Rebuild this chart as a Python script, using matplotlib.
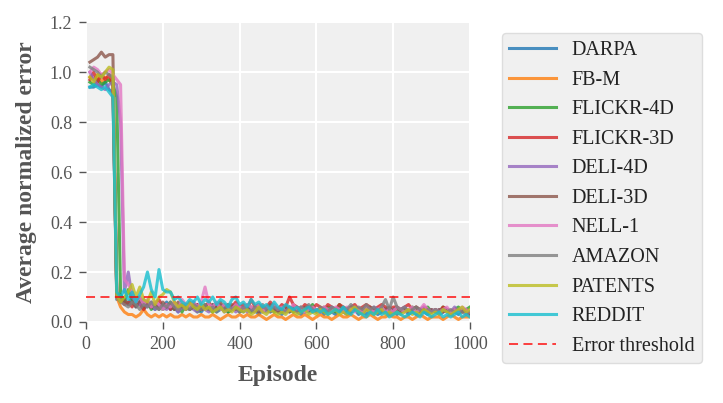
import matplotlib
matplotlib.use("Agg")
import matplotlib.pyplot as plt

# episodes every 10 steps
episodes = list(range(10, 1001, 10))

darpa = [0.94, 0.94, 0.95, 0.94, 0.96, 0.93, 0.92, 0.09, 0.11, 0.08,
         0.07, 0.10, 0.06, 0.08, 0.05, 0.07, 0.06, 0.05, 0.07, 0.06,
         0.08, 0.05, 0.06, 0.04, 0.07, 0.05, 0.06, 0.08, 0.05, 0.04,
         0.06, 0.05, 0.07, 0.04, 0.05, 0.06, 0.04, 0.05, 0.07, 0.05,
         0.04, 0.06, 0.04, 0.05, 0.03, 0.05, 0.06, 0.04, 0.05, 0.04,
         0.03, 0.05, 0.04, 0.06, 0.04, 0.03, 0.05, 0.04, 0.06, 0.04,
         0.05, 0.03, 0.05, 0.04, 0.03, 0.05, 0.04, 0.03, 0.04, 0.05,
         0.03, 0.04, 0.03, 0.05, 0.04, 0.03, 0.04, 0.05, 0.03, 0.04,
         0.03, 0.04, 0.05, 0.03, 0.04, 0.03, 0.05, 0.04, 0.03, 0.04,
         0.05, 0.03, 0.04, 0.05, 0.03, 0.04, 0.03, 0.05, 0.04, 0.03]

fb_m = [0.98, 0.97, 0.99, 0.96, 0.98, 0.97, 0.95, 0.10, 0.06, 0.04,
        0.03, 0.03, 0.02, 0.03, 0.05, 0.03, 0.02, 0.03, 0.02, 0.03,
        0.02, 0.03, 0.02, 0.02, 0.03, 0.02, 0.03, 0.02, 0.02, 0.03,
        0.02, 0.02, 0.03, 0.02, 0.01, 0.02, 0.03, 0.02, 0.02, 0.03,
        0.02, 0.03, 0.02, 0.02, 0.03, 0.02, 0.01, 0.02, 0.03, 0.02,
        0.02, 0.01, 0.02, 0.03, 0.02, 0.02, 0.03, 0.02, 0.01, 0.02,
        0.03, 0.02, 0.02, 0.01, 0.02, 0.03, 0.02, 0.02, 0.03, 0.02,
        0.01, 0.02, 0.02, 0.03, 0.02, 0.01, 0.02, 0.02, 0.03, 0.02,
        0.02, 0.01, 0.02, 0.02, 0.01, 0.02, 0.03, 0.02, 0.01, 0.02,
        0.02, 0.02, 0.01, 0.02, 0.03, 0.02, 0.01, 0.02, 0.02, 0.02]

flickr_4d = [0.96, 0.95, 0.97, 0.95, 0.96, 0.97, 0.95, 0.90, 0.11, 0.08,
             0.13, 0.09, 0.07, 0.10, 0.06, 0.08, 0.05, 0.07, 0.06, 0.05,
             0.06, 0.08, 0.05, 0.06, 0.04, 0.07, 0.05, 0.06, 0.04, 0.05,
             0.07, 0.05, 0.04, 0.06, 0.05, 0.07, 0.04, 0.05, 0.06, 0.04,
             0.05, 0.06, 0.04, 0.05, 0.07, 0.04, 0.05, 0.06, 0.04, 0.05,
             0.04, 0.06, 0.05, 0.04, 0.05, 0.06, 0.04, 0.05, 0.07, 0.04,
             0.05, 0.04, 0.06, 0.05, 0.04, 0.07, 0.05, 0.04, 0.06, 0.05,
             0.04, 0.05, 0.06, 0.04, 0.05, 0.04, 0.06, 0.05, 0.04, 0.05,
             0.06, 0.04, 0.05, 0.04, 0.06, 0.05, 0.04, 0.05, 0.06, 0.04,
             0.05, 0.04, 0.06, 0.05, 0.04, 0.05, 0.06, 0.04, 0.05, 0.06]

flickr_3d = [0.97, 1.00, 0.96, 0.99, 0.97, 0.99, 0.95, 0.11, 0.09, 0.07,
             0.08, 0.06, 0.09, 0.07, 0.05, 0.08, 0.06, 0.07, 0.09, 0.06,
             0.07, 0.05, 0.08, 0.06, 0.07, 0.05, 0.08, 0.06, 0.07, 0.05,
             0.06, 0.08, 0.05, 0.07, 0.06, 0.05, 0.07, 0.06, 0.08, 0.06,
             0.07, 0.05, 0.09, 0.06, 0.07, 0.05, 0.06, 0.08, 0.06, 0.05,
             0.07, 0.06, 0.10, 0.07, 0.06, 0.05, 0.07, 0.06, 0.05, 0.07,
             0.06, 0.05, 0.07, 0.06, 0.05, 0.07, 0.06, 0.05, 0.06, 0.07,
             0.05, 0.06, 0.07, 0.06, 0.05, 0.06, 0.07, 0.06, 0.05, 0.06,
             0.06, 0.05, 0.06, 0.07, 0.05, 0.06, 0.05, 0.06, 0.05, 0.04,
             0.05, 0.04, 0.06, 0.05, 0.04, 0.05, 0.04, 0.05, 0.04, 0.03]

deli_4d = [1.00, 0.97, 0.95, 0.94, 0.93, 0.95, 0.96, 0.95, 0.80, 0.12,
           0.20, 0.10, 0.08, 0.07, 0.09, 0.06, 0.08, 0.05, 0.07, 0.06,
           0.05, 0.07, 0.06, 0.04, 0.06, 0.05, 0.07, 0.05, 0.04, 0.06,
           0.05, 0.04, 0.06, 0.05, 0.07, 0.04, 0.05, 0.06, 0.04, 0.05,
           0.06, 0.04, 0.05, 0.04, 0.06, 0.05, 0.04, 0.05, 0.06, 0.04,
           0.05, 0.04, 0.06, 0.05, 0.04, 0.05, 0.04, 0.06, 0.05, 0.04,
           0.04, 0.05, 0.04, 0.06, 0.05, 0.04, 0.05, 0.04, 0.05, 0.06,
           0.05, 0.04, 0.05, 0.04, 0.06, 0.05, 0.04, 0.05, 0.04, 0.05,
           0.04, 0.05, 0.06, 0.04, 0.05, 0.04, 0.05, 0.06, 0.04, 0.05,
           0.04, 0.05, 0.04, 0.05, 0.04, 0.06, 0.04, 0.05, 0.04, 0.04]

deli_3d = [1.04, 1.05, 1.06, 1.08, 1.06, 1.07, 1.07, 0.12, 0.08, 0.09,
           0.07, 0.08, 0.06, 0.09, 0.07, 0.08, 0.06, 0.07, 0.05, 0.08,
           0.06, 0.07, 0.05, 0.08, 0.06, 0.07, 0.05, 0.06, 0.07, 0.05,
           0.06, 0.05, 0.07, 0.06, 0.08, 0.05, 0.06, 0.07, 0.05, 0.06,
           0.05, 0.07, 0.06, 0.05, 0.04, 0.06, 0.05, 0.07, 0.05, 0.04,
           0.06, 0.05, 0.04, 0.06, 0.05, 0.04, 0.06, 0.05, 0.04, 0.05,
           0.04, 0.06, 0.05, 0.04, 0.05, 0.06, 0.04, 0.05, 0.04, 0.05,
           0.05, 0.04, 0.05, 0.06, 0.04, 0.05, 0.04, 0.05, 0.06, 0.04,
           0.05, 0.04, 0.05, 0.04, 0.05, 0.06, 0.04, 0.05, 0.04, 0.05,
           0.04, 0.05, 0.04, 0.05, 0.04, 0.05, 0.04, 0.04, 0.05, 0.04]

nell_1 = [1.00, 1.02, 1.01, 0.99, 1.00, 1.01, 0.99, 0.97, 0.95, 0.17,
          0.15, 0.12, 0.08, 0.10, 0.07, 0.09, 0.06, 0.08, 0.07, 0.05,
          0.07, 0.06, 0.08, 0.05, 0.09, 0.07, 0.06, 0.08, 0.06, 0.08,
          0.14, 0.07, 0.06, 0.08, 0.05, 0.07, 0.06, 0.05, 0.07, 0.06,
          0.05, 0.07, 0.06, 0.05, 0.07, 0.04, 0.06, 0.05, 0.07, 0.05,
          0.06, 0.04, 0.05, 0.07, 0.05, 0.06, 0.04, 0.05, 0.06, 0.05,
          0.04, 0.06, 0.05, 0.04, 0.06, 0.05, 0.04, 0.06, 0.05, 0.04,
          0.05, 0.04, 0.06, 0.05, 0.04, 0.05, 0.06, 0.04, 0.05, 0.04,
          0.06, 0.05, 0.04, 0.05, 0.06, 0.04, 0.05, 0.07, 0.05, 0.04,
          0.05, 0.04, 0.05, 0.06, 0.04, 0.05, 0.04, 0.06, 0.05, 0.04]

amazon = [1.02, 1.01, 1.00, 0.98, 1.00, 0.99, 0.98, 0.10, 0.08, 0.07,
          0.06, 0.08, 0.07, 0.05, 0.07, 0.06, 0.08, 0.06, 0.05, 0.07,
          0.06, 0.08, 0.06, 0.05, 0.07, 0.06, 0.05, 0.07, 0.06, 0.05,
          0.07, 0.05, 0.06, 0.04, 0.06, 0.05, 0.07, 0.05, 0.06, 0.04,
          0.06, 0.05, 0.04, 0.06, 0.05, 0.07, 0.05, 0.04, 0.06, 0.05,
          0.05, 0.04, 0.06, 0.05, 0.04, 0.06, 0.05, 0.07, 0.05, 0.04,
          0.06, 0.05, 0.04, 0.06, 0.05, 0.04, 0.06, 0.05, 0.07, 0.05,
          0.06, 0.05, 0.07, 0.05, 0.06, 0.04, 0.06, 0.09, 0.05, 0.10,
          0.06, 0.05, 0.06, 0.04, 0.05, 0.06, 0.05, 0.04, 0.05, 0.04,
          0.05, 0.04, 0.05, 0.04, 0.05, 0.04, 0.05, 0.04, 0.03, 0.04]

patents = [0.98, 0.96, 0.99, 0.98, 1.00, 1.02, 1.01, 0.11, 0.08, 0.10,
           0.12, 0.15, 0.10, 0.14, 0.09, 0.08, 0.12, 0.07, 0.10, 0.11,
           0.13, 0.12, 0.08, 0.06, 0.07, 0.05, 0.08, 0.06, 0.05, 0.07,
           0.05, 0.06, 0.04, 0.05, 0.06, 0.04, 0.05, 0.04, 0.06, 0.05,
           0.04, 0.05, 0.03, 0.04, 0.06, 0.04, 0.03, 0.05, 0.04, 0.03,
           0.04, 0.03, 0.05, 0.04, 0.03, 0.04, 0.05, 0.03, 0.04, 0.03,
           0.05, 0.04, 0.03, 0.04, 0.05, 0.03, 0.04, 0.03, 0.05, 0.06,
           0.04, 0.03, 0.05, 0.04, 0.03, 0.04, 0.05, 0.03, 0.04, 0.03,
           0.04, 0.03, 0.04, 0.05, 0.03, 0.04, 0.03, 0.05, 0.04, 0.03,
           0.04, 0.03, 0.05, 0.04, 0.03, 0.04, 0.05, 0.06, 0.04, 0.05]

reddit = [0.94, 0.95, 0.94, 0.93, 0.94, 0.92, 0.90, 0.12, 0.10, 0.13,
          0.09, 0.12, 0.08, 0.11, 0.14, 0.20, 0.13, 0.10, 0.21, 0.13,
          0.12, 0.12, 0.09, 0.10, 0.08, 0.07, 0.09, 0.08, 0.10, 0.07,
          0.09, 0.08, 0.10, 0.07, 0.09, 0.08, 0.06, 0.09, 0.10, 0.07,
          0.08, 0.06, 0.09, 0.07, 0.08, 0.06, 0.07, 0.05, 0.08, 0.06,
          0.05, 0.07, 0.06, 0.05, 0.06, 0.04, 0.05, 0.06, 0.04, 0.05,
          0.04, 0.05, 0.03, 0.04, 0.05, 0.04, 0.06, 0.04, 0.03, 0.05,
          0.04, 0.03, 0.02, 0.04, 0.03, 0.05, 0.03, 0.04, 0.02, 0.03,
          0.04, 0.03, 0.02, 0.03, 0.04, 0.03, 0.02, 0.04, 0.03, 0.02,
          0.03, 0.04, 0.02, 0.03, 0.02, 0.03, 0.04, 0.02, 0.03, 0.02]

names = ["DARPA", "FB-M", "FLICKR-4D", "FLICKR-3D", "DELI-4D", "DELI-3D",
         "NELL-1", "AMAZON", "PATENTS", "REDDIT"]
series = [darpa, fb_m, flickr_4d, flickr_3d, deli_4d, deli_3d,
          nell_1, amazon, patents, reddit]
threshold = 0.1

plt.rcParams['font.family'] = ['Liberation Serif', 'DejaVu Serif']

fig = plt.figure(figsize=(7.23, 4.03), dpi=100)
ax = fig.add_axes([0.119, 0.201, 0.531, 0.744])
ax.set_facecolor('#f0f0f0')

colors = plt.get_cmap('tab10').colors
for i, (name, vals) in enumerate(zip(names, series)):
    ax.plot(episodes, vals, color=colors[i], alpha=0.8, lw=2.2, label=name)
ax.axhline(threshold, color='red', alpha=0.8, lw=1.3, ls='--', dashes=(5, 3),
           label='Error threshold')

ax.set_xlim(0, 1000)
ax.set_ylim(0, 1.2)
ax.set_xticks(range(0, 1001, 200))
ax.set_yticks([0.0, 0.2, 0.4, 0.6, 0.8, 1.0, 1.2])
ax.set_yticklabels(['0.0', '0.2', '0.4', '0.6', '0.8', '1.0', '1.2'])
ax.grid(True, color='white', lw=1.5)
ax.set_axisbelow(True)
for s in ax.spines.values():
    s.set_visible(False)
ax.tick_params(colors='#555555', labelsize=13, length=5, width=1, pad=5)

ax.set_xlabel('Episode', fontsize=17, fontweight='bold', color='#555555',
              labelpad=9)
ax.set_ylabel('Average normalized error', fontsize=17, fontweight='bold',
              color='#555555', labelpad=9)

leg = ax.legend(loc='upper left', bbox_to_anchor=(1.083, 0.963), fontsize=14.5,
                frameon=True, facecolor='#f0f0f0', edgecolor='#dddddd',
                labelspacing=0.52, handlelength=2.3, handletextpad=0.8,
                borderpad=0.38, borderaxespad=0, framealpha=1)
for t in leg.get_texts():
    t.set_color('#222222')

fig.savefig('out.png', dpi=100)
